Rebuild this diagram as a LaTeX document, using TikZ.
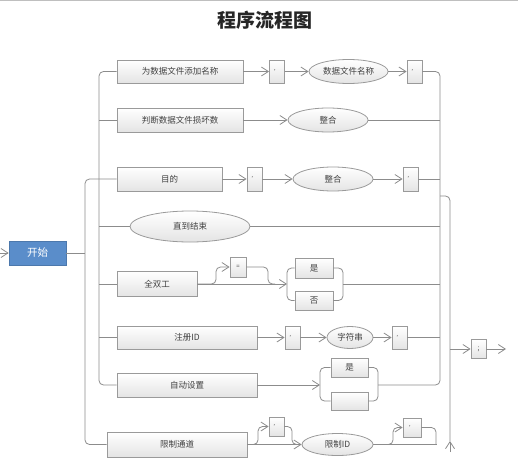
\documentclass[tikz,border=0pt]{standalone}
\usepackage{fontspec}
\setmainfont{Noto Sans CJK SC}
\usetikzlibrary{shapes.geometric,arrows.meta}
\definecolor{ln}{HTML}{8C8C8C}
\definecolor{bd}{HTML}{9A9A9A}
\definecolor{tx}{HTML}{404040}
\definecolor{bl}{HTML}{5A8DCA}
\definecolor{bf}{HTML}{E4E4E4}
\tikzset{
  lbl/.style={font=\fontsize{8.5}{10}\selectfont, text=tx},
  box/.style={draw=bd, line width=0.8pt, top color=white, bottom color=bf, inner sep=0pt, lbl},
  tok/.style={box, minimum width=15pt, minimum height=23pt, font=\fontsize{6}{7}\selectfont},
  oval/.style={ellipse, draw=bd, line width=0.8pt, top color=white, bottom color=bf, inner sep=0pt, lbl},
  startbox/.style={draw=bl!85!black, line width=0.6pt, fill=bl, text=white, inner sep=0pt,
    font=\fontsize{10.5}{12}\selectfont, minimum width=57pt, minimum height=24pt},
  conn/.style={draw=ln, line width=0.8pt, rounded corners=4.5pt},
  arr/.style={conn, -{Straight Barb[length=7pt,width=9pt,line width=0.8pt]}},
}
\begin{document}
\begin{tikzpicture}[x=1pt,y=-1pt]
\useasboundingbox (0,0) rectangle (518,457);
\draw[gray!50, line width=1pt] (0,0.5) -- (518,0.5);
\node[font=\fontsize{19}{22}\selectfont\bfseries, text=black!85] (title) at (265,20) {程序流程图};

% start
\node[startbox] (start) at (37.5,253) {开始};
% row 1
\node[box, minimum width=126pt, minimum height=23pt] (b1) at (180,71.5) {为数据文件添加名称};
\node[tok] (t1) at (277,71.5) {'};
\node[oval, minimum width=79pt, minimum height=24pt] (e1) at (348.5,71.5) {数据文件名称};
\node[tok] (t2) at (414.5,71.5) {'};
% row 2
\node[box, minimum width=126pt, minimum height=24pt] (b2) at (180,120) {判断数据文件损坏数};
\node[oval, minimum width=80pt, minimum height=24pt] (e2) at (328,120) {整合};
% row 3
\node[box, minimum width=105pt, minimum height=24pt] (b3) at (169.5,179) {目的};
\node[tok, minimum height=24pt] (t3) at (254.5,179) {'};
\node[oval, minimum width=80pt, minimum height=24pt] (e3) at (333,179) {整合};
\node[tok, minimum height=24pt] (t4) at (410.5,179) {'};
% row 4
\node[oval, minimum width=120pt, minimum height=31pt] (e4) at (190,226.5) {直到结束};
% row 5
\node[box, minimum width=80pt, minimum height=25pt] (b5) at (157,284) {全双工};
\node[tok, minimum width=16pt, minimum height=20pt] (t5) at (238,267) {=};
\node[box, minimum width=38pt, minimum height=20pt] (y1) at (314,268) {是};
\node[box, minimum width=38pt, minimum height=19pt] (n1) at (314,300.5) {否};
% row 6
\node[box, minimum width=140pt, minimum height=23pt] (b6) at (187,337.5) {注册ID};
\node[tok] (t6) at (292.5,337.5) {'};
\node[oval, minimum width=46pt, minimum height=22pt] (e6) at (350,337.5) {字符串};
\node[tok] (t7) at (399.5,337.5) {'};
% row 7
\node[box, minimum width=140pt, minimum height=24pt] (b7) at (187,385) {自动设置};
\node[box, minimum width=37pt, minimum height=19pt] (y2) at (349.5,367.5) {是};
\node[box, minimum width=37pt, minimum height=18pt] (m2) at (349.5,401) {};
% row 8
\node[box, minimum width=140pt, minimum height=25pt] (b8) at (177,444.5) {限制通道};
\node[tok, minimum height=19pt] (t8) at (276.5,426.5) {'};
\node[oval, minimum width=71pt, minimum height=22pt] (e8) at (337.5,444.5) {限制ID};
\node[tok, minimum width=18pt, minimum height=19pt] (t9) at (412,427.5) {'};
% end
\node[tok, minimum height=19pt, font=\fontsize{7}{8}\selectfont] (t10) at (478.5,349) {;};

% junction coordinates
\coordinate (inL) at (0,253);
\coordinate (jS) at (85,253);
\coordinate (j3L) at (85,179);
\coordinate (j8L) at (85,444.5);
\coordinate (j1L) at (99,71.5);
\coordinate (j2L) at (99,120);
\coordinate (j4L) at (99,226.5);
\coordinate (j5L) at (99,284);
\coordinate (j6L) at (99,337.5);
\coordinate (j7L) at (99,385);
\coordinate (j1R) at (440,71.5);
\coordinate (j2R) at (440,120);
\coordinate (j3R) at (440,179);
\coordinate (j4R) at (440,226.5);
\coordinate (j5R) at (440,284);
\coordinate (j6R) at (440,337.5);
\coordinate (j7R) at (440,385);
\coordinate (k1) at (440,196);
\coordinate (k2) at (450,196);
\coordinate (k3) at (450,441);
\coordinate (k4) at (450,452);
\coordinate (kOut) at (450,349);
\coordinate (out) at (506,349);
\coordinate (br5L) at (287,284);
\coordinate (br5R) at (343,284);
\coordinate (br7L) at (320,385);
\coordinate (br7R) at (378,385);
\coordinate (end8) at (437,444.5);

% left side
\draw[arr] (inL) -- (start);
\draw[conn] (start.east) -- (jS);
\draw[conn] (b3.west) -- (j3L) -- (j8L) -- (b8.west);
\draw[conn] (b1.west) -- (j1L) -- (j7L) -- (b7.west);
\draw[conn] (j2L) -- (b2.west);
\draw[conn] (j4L) -- (e4.west);
\draw[conn] (j5L) -- (b5.west);
\draw[conn] (j6L) -- (b6.west);

% right side
\draw[conn] (t2.east) -- (j1R) -- (j7R) -- (br7R);
\draw[conn] (k1) -- (k2) -- (k3);
\draw[arr] (k4) -- (k3);
\draw[arr] (kOut) -- (t10.west);
\draw[arr] (t10.east) -- (out);

% row 1
\draw[arr] (b1) -- (t1);
\draw[arr] (t1) -- (e1);
\draw[arr] (e1) -- (t2);
% row 2
\draw[arr] (b2) -- (e2);
\draw[conn] (e2.east) -- (j2R);
% row 3
\draw[arr] (b3) -- (t3);
\draw[arr] (t3) -- (e3);
\draw[arr] (e3) -- (t4);
\draw[conn] (t4.east) -- (j3R);
% row 4
\draw[conn] (e4.east) -- (j4R);
% row 5
\draw[arr] (b5.east) -- (br5L);
\draw[arr] (b5.east) -- (216,284) -- (216,267) -- (t5.west);
\draw[conn] (t5.east) -- (268,267) -- (268,284) -- (275,284);
\draw[conn] (y1.west) -| (br5L) |- (n1.west);
\draw[conn] (y1.east) -| (br5R) |- (n1.east);
\draw[conn] (br5R) -- (j5R);
% row 6
\draw[arr] (b6) -- (t6);
\draw[arr] (t6) -- (e6);
\draw[arr] (e6) -- (t7);
\draw[conn] (t7.east) -- (j6R);
% row 7
\draw[arr] (b7.east) -- (br7L);
\draw[conn] (y2.west) -| (br7L) |- (m2.west);
\draw[conn] (y2.east) -| (br7R) |- (m2.east);
% row 8
\draw[arr] (b8) -- (e8);
\draw[arr] (250,444.5) -- (258,444.5) -- (258,426.5) -- (t8.west);
\draw[conn] (t8.east) -- (292,426.5) -- (292,444.5) -- (298,444.5);
\draw[conn] (e8.east) -- (end8);
\draw[arr] (385,444.5) -- (393,444.5) -- (393,427.5) -- (t9.west);
\draw[conn] (t9.east) -- (436,427.5) -- (436,444.5);
\end{tikzpicture}
\end{document}
